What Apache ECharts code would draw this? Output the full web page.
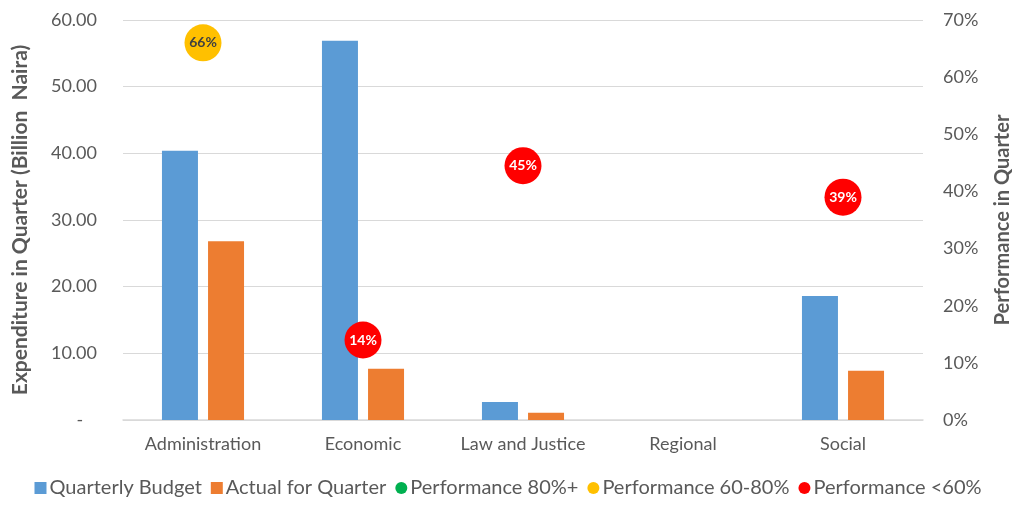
<!DOCTYPE html>
<html><head><meta charset="utf-8">
<script src="https://cdn.jsdelivr.net/npm/echarts@6/dist/echarts.min.js"></script>
<style>html,body{margin:0;padding:0;background:#fff}#c{width:1016px;height:505px}</style>
</head><body><div id="c"></div>
<script>
const categories = ['Administration', 'Economic', 'Law and Justice', 'Regional', 'Social'];
const quarterlyBudget = [40.4, 56.9, 2.7, 0, 18.6];
const actualForQuarter = [26.8, 7.7, 1.1, 0, 7.4];
const perf80plus = [null, null, null, null, null];
const perf60to80 = [0.66, null, null, null, null];
const perfBelow60 = [null, 0.14, 0.445, null, 0.39];
const leftTicks = [0, 10, 20, 30, 40, 50, 60];
const rightTicks = [0, 0.1, 0.2, 0.3, 0.4, 0.5, 0.6, 0.7];

const font = 'Lato, "Open Sans", sans-serif';
const grey = '#595959';
const chart = echarts.init(document.getElementById('c'));
function scatterSeries(name, data, color, textColor) {
  return {
    name, type: 'scatter', yAxisIndex: 1, data,
    symbol: 'circle', symbolSize: 37,
    itemStyle: { color, opacity: 1 },
    label: { show: true, position: 'inside', formatter: p => Math.round(p.value * 100) + '%',
      color: textColor, fontWeight: 'bold', fontSize: 14, fontFamily: font },
    z: 5
  };
}
chart.setOption({
  animation: false,
  textStyle: { fontFamily: font },
  grid: { left: 123, right: 93, top: 20, bottom: 85, outerBoundsMode: 'none', containLabel: false },
  legend: {
    bottom: 2, left: 'center', itemWidth: 12, itemHeight: 12, itemGap: 9,
    textStyle: { fontSize: 20, color: grey, fontFamily: font, padding: [0, 0, 0, -2] },
    data: [
      { name: 'Quarterly Budget', icon: 'rect' },
      { name: 'Actual for Quarter', icon: 'rect' },
      { name: 'Performance 80%+', icon: 'circle' },
      { name: 'Performance 60-80%', icon: 'circle' },
      { name: 'Performance <60%', icon: 'circle' }
    ]
  },
  xAxis: {
    type: 'category', data: categories,
    axisLine: { lineStyle: { color: '#d9d9d9', width: 1.5 } },
    axisTick: { show: false },
    axisLabel: { color: grey, fontSize: 18, margin: 15, interval: 0 }
  },
  yAxis: [
    {
      type: 'value', min: leftTicks[0], max: leftTicks[leftTicks.length - 1], interval: 10,
      name: 'Expenditure in Quarter (Billion  Naira)', nameLocation: 'middle', nameGap: 92,
      nameTextStyle: { fontSize: 21, fontWeight: 'bold', color: grey },
      axisLine: { show: false }, axisTick: { show: false },
      axisLabel: { color: grey, fontSize: 18, margin: 26,
        formatter: v => v === 0 ? '-   ' : v.toFixed(2) },
      splitLine: { lineStyle: { color: '#d9d9d9', width: 1 } }
    },
    {
      type: 'value', min: rightTicks[0], max: rightTicks[rightTicks.length - 1], interval: 0.1,
      name: 'Performance in Quarter', nameLocation: 'middle', nameGap: 70,
      nameTextStyle: { fontSize: 20, fontWeight: 'bold', color: grey },
      axisLine: { show: false }, axisTick: { show: false },
      axisLabel: { color: grey, fontSize: 18, margin: 20,
        formatter: v => Math.round(v * 100) + '%' },
      splitLine: { show: false }
    }
  ],
  series: [
    { name: 'Quarterly Budget', type: 'bar', data: quarterlyBudget, barWidth: 36, barGap: '28%',
      itemStyle: { color: '#5b9bd5' } },
    { name: 'Actual for Quarter', type: 'bar', data: actualForQuarter, barWidth: 36,
      itemStyle: { color: '#ed7d31' } },
    scatterSeries('Performance 80%+', perf80plus, '#00b050', '#fff'),
    scatterSeries('Performance 60-80%', perf60to80, '#ffc000', '#404040'),
    scatterSeries('Performance <60%', perfBelow60, '#ff0000', '#fff')
  ]
});
</script></body></html>
